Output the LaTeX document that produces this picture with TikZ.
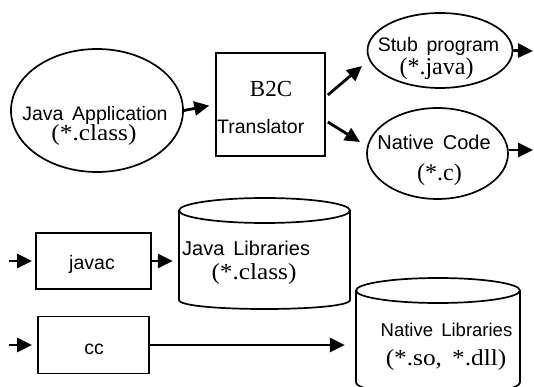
\documentclass[tikz,border=0pt]{standalone}
\usepackage{fontspec}
\setmainfont{Liberation Serif}
\setsansfont{Liberation Sans}
\newfontfamily\serifwide[FakeStretch=1.1]{Liberation Serif}
\usetikzlibrary{shapes.geometric,arrows.meta,calc}
\tikzset{
  shapeline/.style={line width=1.7pt},
  ell/.style={ellipse, draw, shapeline, inner sep=0pt},
  boxn/.style={rectangle, draw, shapeline, inner sep=0pt},
  area/.style={rectangle, draw=none, inner sep=0pt},
  arr/.style={line width=2.8pt, -{Triangle[length=15pt,width=14pt]}},
  stxt/.style={font=\sffamily\fontsize{19.5}{20}\selectfont, inner sep=0pt, anchor=base},
  rtxt/.style={font=\fontsize{24}{24}\selectfont, inner sep=0pt, anchor=base},
  wtxt/.style={font=\serifwide\fontsize{23}{23}\selectfont, inner sep=0pt, anchor=base},
}
\begin{document}
\begin{tikzpicture}[x=1pt,y=-1pt]
\useasboundingbox (0,0) rectangle (534,387);

% shapes
\node[ell, minimum width=172pt, minimum height=123pt] (japp) at (97,110.5) {};
\node[boxn, minimum width=109pt, minimum height=103pt] (b2c) at (270.5,104.5) {};
\node[ell, minimum width=145pt, minimum height=75pt] (stub) at (440,50.5) {};
\node[ell, minimum width=141pt, minimum height=91pt] (ncode) at (437.5,153.5) {};
\node[boxn, minimum width=115pt, minimum height=56pt] (javac) at (93.5,261) {};
\node[boxn, minimum width=111pt, minimum height=57pt] (cc) at (93.5,345) {};
\node[area, minimum width=171pt, minimum height=111pt] (jlib) at (264.5,253.5) {};
\node[area, minimum width=164pt, minimum height=115pt] (nlib) at (438,335.5) {};

% cylinders
\draw[shapeline] (264.5,210.5) ellipse [x radius=85.5, y radius=12.5];
\draw[shapeline] (179,210.5) -- (179,300)
  .. controls (179,312) and (350,312) .. (350,300) -- (350,210.5);
\draw[shapeline] (438,290.5) ellipse [x radius=82, y radius=12.5];
\draw[shapeline] (356,290.5) -- (356,382)
  .. controls (356,399) and (520,399) .. (520,382) -- (520,290.5);

% texts
\node[stxt] (t1) at (95,120.5) {Java\, Application};
\node[wtxt] (t2) at (94,141) {(*.class)};
\node[rtxt, font=\fontsize{23}{23}\selectfont] (t3) at (271,97) {B2C};
\node[stxt, anchor=base west] (t4) at (217,134) {Translator};
\node[stxt] (t5) at (438.5,52) {Stub\, program};
\node[rtxt] (t6) at (436.5,75) {(*.java)};
\node[stxt, font=\sffamily\fontsize{20}{20}\selectfont] (t7) at (434,150) {Native\, Code};
\node[rtxt] (t8) at (439.5,180) {(*.c)};
\node[stxt] (t9) at (92,269) {javac};
\node[stxt] (t10) at (94,354) {cc};
\node[stxt, anchor=base west, font=\sffamily\fontsize{20}{20}\selectfont] (t11) at (182,255) {Java\, Libraries};
\node[wtxt] (t12) at (254,279) {(*.class)};
\node[stxt, font=\sffamily\fontsize{18.5}{19}\selectfont] (t13) at (446.5,336) {Native\, Libraries};
\node[wtxt] (t14) at (446,365) {(*.so,\, *.dll)};

% free ends
\coordinate (stubout) at (533,51);
\coordinate (ncodeout) at (533,150);
\coordinate (javacin) at (9,261);
\coordinate (ccin) at (9,345);

% connectors
\draw[arr, shorten >=6pt] (japp.east) -- (b2c.west);
\draw[arr] ([shift={(2,-9.5)}]b2c.east) -- ([shift={(-78,15.5)}]stub.center);
\draw[arr] ([shift={(2,17.5)}]b2c.east) -- ([shift={(-77.5,-11.5)}]ncode.center);
\draw[arr] (stub.east) -- (stubout);
\draw[arr] (ncode.east |- ncodeout) -- (ncodeout);
\draw[arr, shorten >=3pt] (javacin) -- (javac.west);
\draw[arr, shorten >=6pt] (javac.east) -- (javac.east -| jlib.west);
\draw[arr, shorten >=5pt] (ccin) -- (cc.west);
\draw[arr, shorten >=11pt] (cc.east) -- (cc.east -| nlib.west);
\end{tikzpicture}
\end{document}
